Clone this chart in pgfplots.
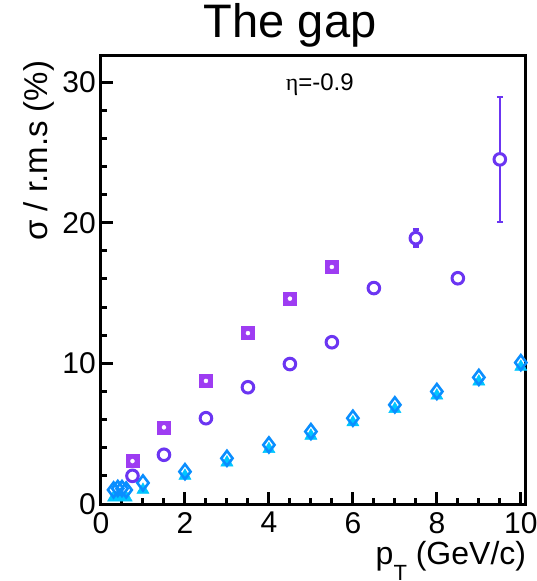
\documentclass[border=0pt]{standalone}
\usepackage{fontspec}
\setmainfont{Liberation Sans}
\newfontfamily\greekserif{Liberation Serif}
\usepackage{pgfplots}
\pgfplotsset{compat=1.18}
\definecolor{SqPurple}{HTML}{9E3CF2}
\definecolor{CircViolet}{HTML}{6B35F2}
\definecolor{DiaBlue}{HTML}{0A8EFF}
\definecolor{TriCyan}{HTML}{00C6FF}

\begin{document}
\begin{tikzpicture}
\path[use as bounding box] (-101pt,-77pt) rectangle (435pt,504pt);
\begin{axis}[
  scale only axis, width=424pt, height=448pt,
  xmin=0, xmax=10.1, ymin=0, ymax=31.85,
  axis line style={line width=3pt},
  tick pos=left, tick align=inside,
  xtick={0,2,4,6,8,10}, ytick={0,10,20,30},
  minor x tick num=3, minor y tick num=4,
  major tick length=12pt, minor tick length=6pt,
  every tick/.style={line width=3pt, black},
  ticklabel style={font=\fontsize{30}{30}\selectfont},
  /pgf/number format/assume math mode=true,
  xticklabel style={inner sep=8pt},
  yticklabel style={inner sep=5pt},
  title={The gap},
  title style={font=\fontsize{47}{47}\selectfont, at={(axis description cs:0.446,1.027)}, anchor=base, inner sep=0pt},
  xlabel={p\raisebox{-16pt}{\fontsize{22}{22}\selectfont T} (GeV/c)},
  xlabel style={font=\fontsize{32}{32}\selectfont, at={(axis description cs:1.003,-0.136)}, anchor=base east, inner sep=0pt},
  ylabel={σ / r.m.s (\%)},
  ylabel style={font=\fontsize{33}{33}\selectfont, at={(axis description cs:-0.125,0.99)}, anchor=base east, inner sep=0pt},
  clip=false,
]
% open diamonds over filled triangles
\addplot[only marks, mark=triangle*, mark size=7pt, mark options={fill=TriCyan, draw=TriCyan, line width=0.5pt}] coordinates {
  (0.3,0.45) (0.4,0.5) (0.5,0.5) (0.6,0.45) (1,1.0) (2,2.0) (3,2.95) (4,3.9)
  (5,4.85) (6,5.8) (7,6.75) (8,7.7) (9,8.7) (10,9.75)
};
\addplot[only marks, mark=diamond, mark size=7.5pt, mark options={draw=DiaBlue, line width=2.6pt},
  error bars/.cd, y dir=both, y explicit, error bar style={white, line width=1.5pt}, error mark=none] coordinates {
  (0.3,1.0) +- (0,0.2) (0.4,1.1) +- (0,0.2) (0.5,1.1) +- (0,0.2) (0.6,1.0) +- (0,0.2)
  (1,1.5) +- (0,0.2) (2,2.3) +- (0,0.2) (3,3.25) +- (0,0.2) (4,4.2) +- (0,0.2)
  (5,5.15) +- (0,0.2) (6,6.1) +- (0,0.2) (7,7.05) +- (0,0.2) (8,8.0) +- (0,0.2)
  (9,9.0) +- (0,0.2) (10,10.05) +- (0,0.2)
};
% filled squares, their small white error bars drawn on top
\addplot[only marks, mark=square*, mark size=6.5pt, mark options={fill=SqPurple, draw=SqPurple}] coordinates {
  (0.75,3.05) (1.5,5.45) (2.5,8.75) (3.5,12.15) (4.5,14.6) (5.5,16.85)
};
\addplot[only marks, mark=none, white,
  error bars/.cd, y dir=both, y explicit, error bar style={white, line width=1.2pt},
  error mark options={rotate=90, mark size=3pt, white, line width=1.2pt}] coordinates {
  (0.75,3.05) +- (0,0.25) (1.5,5.45) +- (0,0.25) (2.5,8.75) +- (0,0.25)
  (3.5,12.15) +- (0,0.25) (4.5,14.6) +- (0,0.25) (5.5,16.85) +- (0,0.25)
};
% open circles
\addplot[only marks, mark=*, mark size=5.8pt, mark options={fill=white, draw=CircViolet, line width=3pt},
  error bars/.cd, y dir=both, y explicit, error bar style={CircViolet, line width=2.5pt},
  error mark options={rotate=90, mark size=3pt, CircViolet, line width=2.5pt}] coordinates {
  (0.75,2.0) +- (0,0.2) (1.5,3.5) +- (0,0.2) (2.5,6.1) +- (0,0.2) (3.5,8.3) +- (0,0.2)
  (4.5,9.95) +- (0,0.2) (5.5,11.5) +- (0,0.2) (6.5,15.35) +- (0,0.3) (7.5,18.9) +- (0,0.6)
  (8.5,16.05) +- (0,0.35) (9.5,24.5) +- (0,4.45)
};
\node[font=\fontsize{24}{24}\selectfont, anchor=base] at (axis description cs:0.516,0.924) {{\greekserif η}=-0.9};
\end{axis}
\end{tikzpicture}
\end{document}
